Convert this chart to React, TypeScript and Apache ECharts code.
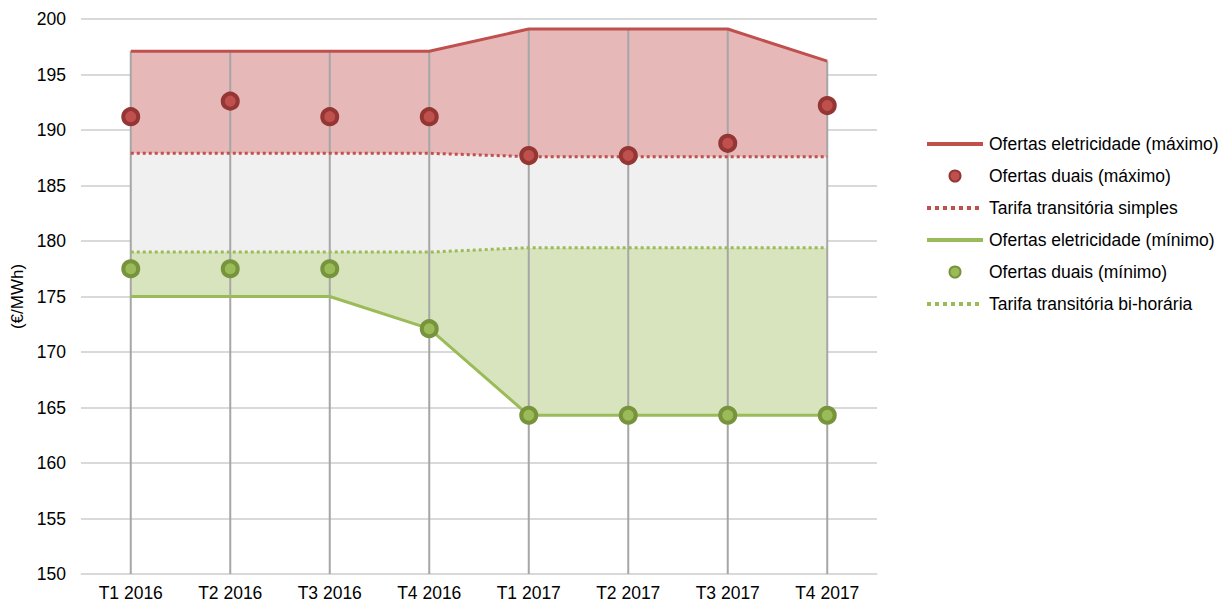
import React, { useEffect, useRef } from "react";
import * as echarts from "echarts";

const categories = ["T1 2016", "T2 2016", "T3 2016", "T4 2016", "T1 2017", "T2 2017", "T3 2017", "T4 2017"];
const eletricidadeMax = [197.1, 197.1, 197.1, 197.1, 199.1, 199.1, 199.1, 196.2];
const duaisMax = [191.2, 192.6, 191.2, 191.2, 187.7, 187.7, 188.8, 192.2];
const tarifaSimples = [187.9, 187.9, 187.9, 187.9, 187.6, 187.6, 187.6, 187.6];
const eletricidadeMin = [175.0, 175.0, 175.0, 172.1, 164.3, 164.3, 164.3, 164.3];
const duaisMin = [177.5, 177.5, 177.5, 172.1, 164.3, 164.3, 164.3, 164.3];
const tarifaBiHoraria = [179.0, 179.0, 179.0, 179.0, 179.4, 179.4, 179.4, 179.4];

const FONT = "'Liberation Sans', Arial, sans-serif";
const RED = "#c0504d";
const RED_DARK = "#943634";
const GREEN = "#9bbb59";
const GREEN_DARK = "#77933c";

const diff = (a: number[], b: number[]) => a.map((v, i) => +(v - b[i]).toFixed(2));
const noSymbol = { color: "rgba(0,0,0,0)", borderWidth: 0, opacity: 0 };

export default function App() {
  const ref = useRef<HTMLDivElement>(null);
  useEffect(() => {
    if (!ref.current) return;
    const chart = echarts.init(ref.current, undefined, { renderer: "svg" });
    const hidden = { symbol: "none", lineStyle: { opacity: 0, width: 0 }, silent: true, z: 1 };
    chart.setOption({
      animation: false,
      textStyle: { fontFamily: FONT },
      grid: { left: 81, right: 353, top: 19, bottom: 29, containLabel: false },
      legend: {
        orient: "vertical",
        left: 920,
        top: 130,
        itemWidth: 56,
        itemHeight: 11,
        itemGap: 14,
        textStyle: { fontFamily: FONT, fontSize: 17.5, color: "#000", padding: [0, 0, 0, 1] },
        data: [
          { name: "Ofertas eletricidade (máximo)", itemStyle: noSymbol, lineStyle: { width: 4 } },
          { name: "Ofertas duais (máximo)", icon: "circle", itemStyle: { borderWidth: 2 } },
          { name: "Tarifa transitória simples", itemStyle: noSymbol, lineStyle: { width: 4, type: [4, 4] } },
          { name: "Ofertas eletricidade (mínimo)", itemStyle: noSymbol, lineStyle: { width: 4 } },
          { name: "Ofertas duais (mínimo)", icon: "circle", itemStyle: { borderWidth: 2 } },
          { name: "Tarifa transitória bi-horária", itemStyle: noSymbol, lineStyle: { width: 4, type: [4, 4] } },
        ],
      },
      xAxis: {
        type: "category",
        data: categories,
        boundaryGap: true,
        axisLine: { show: true, lineStyle: { color: "#d9d9d9", width: 1 } },
        axisTick: { show: false },
        axisLabel: { fontFamily: FONT, fontSize: 17.5, color: "#000", margin: 10 },
        splitLine: { show: false },
      },
      yAxis: {
        type: "value",
        min: 150,
        max: 200,
        interval: 5,
        name: "(€/MWh)",
        nameLocation: "middle",
        nameGap: 54,
        nameTextStyle: { fontFamily: FONT, fontSize: 17, color: "#000" },
        axisLine: { show: false },
        axisTick: { show: false },
        axisLabel: { fontFamily: FONT, fontSize: 17.5, color: "#000", margin: 15 },
        splitLine: { show: true, lineStyle: { color: "#d9d9d9", width: 2 } },
      },
      series: [
        { ...hidden, name: "base", type: "line", stack: "band", data: eletricidadeMin },
        {
          ...hidden, name: "bandGreen", type: "line", stack: "band",
          data: diff(tarifaBiHoraria, eletricidadeMin),
          areaStyle: { color: "#d7e4bd", opacity: 1 },
        },
        {
          ...hidden, name: "bandGray", type: "line", stack: "band",
          data: diff(tarifaSimples, tarifaBiHoraria),
          areaStyle: { color: "#f0f0f0", opacity: 1 },
        },
        {
          ...hidden, name: "bandRed", type: "line", stack: "band",
          data: diff(eletricidadeMax, tarifaSimples),
          areaStyle: { color: "#e6b9b8", opacity: 1 },
        },
        {
          name: "dropLines", type: "bar", data: eletricidadeMax, barWidth: 2, silent: true, z: 2,
          itemStyle: { color: "#a6a6a6" },
        },
        {
          name: "Ofertas eletricidade (máximo)", type: "line", data: eletricidadeMax, symbol: "none", z: 3,
          itemStyle: { color: RED }, lineStyle: { color: RED, width: 3 },
        },
        {
          name: "Tarifa transitória simples", type: "line", data: tarifaSimples, symbol: "none", z: 3,
          itemStyle: { color: RED }, lineStyle: { color: RED, width: 3, type: [3, 3] },
        },
        {
          name: "Ofertas eletricidade (mínimo)", type: "line", data: eletricidadeMin, symbol: "none", z: 3,
          itemStyle: { color: GREEN }, lineStyle: { color: GREEN, width: 3 },
        },
        {
          name: "Tarifa transitória bi-horária", type: "line", data: tarifaBiHoraria, symbol: "none", z: 3,
          itemStyle: { color: GREEN }, lineStyle: { color: GREEN, width: 3, type: [3, 3] },
        },
        {
          name: "Ofertas duais (máximo)", type: "scatter", data: duaisMax, symbol: "circle", symbolSize: 15, z: 4,
          itemStyle: { color: RED, borderColor: RED_DARK, borderWidth: 4, opacity: 1 },
        },
        {
          name: "Ofertas duais (mínimo)", type: "scatter", data: duaisMin, symbol: "circle", symbolSize: 15, z: 4,
          itemStyle: { color: GREEN, borderColor: GREEN_DARK, borderWidth: 4, opacity: 1 },
        },
      ],
    });
    return () => chart.dispose();
  }, []);
  return <div ref={ref} style={{ width: 1230, height: 603, position: "absolute", left: 0, top: 0 }} />;
}
